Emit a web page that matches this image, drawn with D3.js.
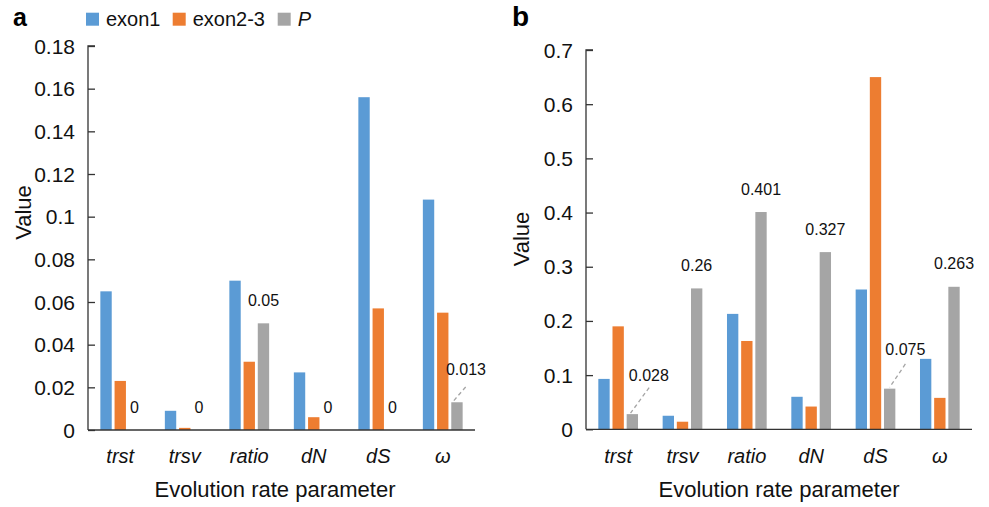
<!DOCTYPE html>
<html>
<head>
<meta charset="utf-8">
<script src="https://cdn.jsdelivr.net/npm/d3@7"></script>
<style>
  html, body { margin: 0; padding: 0; background: #fff; }
  svg { display: block; font-family: "Liberation Sans", Arial, sans-serif; }
</style>
</head>
<body>
<svg id="chart" width="989" height="507"></svg>
<script>
// ---- data ----
const categories = ["trst", "trsv", "ratio", "dN", "dS", "ω"];
const seriesNames = ["exon1", "exon2-3", "P"];
const seriesColors = ["#5B9BD5", "#ED7D31", "#A5A5A5"];

const aExon1  = [0.065, 0.009, 0.070, 0.027, 0.156, 0.108];
const aExon23 = [0.023, 0.001, 0.032, 0.006, 0.057, 0.055];
const aP      = [0, 0, 0.05, 0, 0, 0.013];
const aTicks  = [0, 0.02, 0.04, 0.06, 0.08, 0.1, 0.12, 0.14, 0.16, 0.18];
const aTickLabels = ["0", "0.02", "0.04", "0.06", "0.08", "0.1", "0.12", "0.14", "0.16", "0.18"];

const bExon1  = [0.093, 0.025, 0.213, 0.060, 0.258, 0.130];
const bExon23 = [0.190, 0.014, 0.163, 0.042, 0.650, 0.058];
const bP      = [0.028, 0.26, 0.401, 0.327, 0.075, 0.263];
const bTicks  = [0, 0.1, 0.2, 0.3, 0.4, 0.5, 0.6, 0.7];
const bTickLabels = ["0", "0.1", "0.2", "0.3", "0.4", "0.5", "0.6", "0.7"];

const aPLabels = ["0", "0", "0.05", "0", "0", "0.013"];
const bPLabels = ["0.028", "0.26", "0.401", "0.327", "0.075", "0.263"];

// ---- layout ----
const svg = d3.select("#chart");
const FONT = "'Liberation Sans', Arial, sans-serif";

function drawPanel(cfg) {
  const g = svg.append("g");
  const x0 = d3.scaleBand().domain(categories).range([cfg.left, cfg.right])
    .paddingInner(0.383).paddingOuter(0.1915);
  const x1 = d3.scaleBand().domain(seriesNames).range([0, x0.bandwidth()]).paddingInner(0.2);
  const y = d3.scaleLinear().domain([0, cfg.max]).range([cfg.bottom, cfg.top]);

  const series = [cfg.s1, cfg.s2, cfg.s3];

  // bars
  series.forEach((vals, si) => {
    g.append("g").selectAll("rect").data(vals).join("rect")
      .attr("x", (d, i) => x0(categories[i]) + x1(seriesNames[si]))
      .attr("y", d => y(d))
      .attr("width", x1.bandwidth())
      .attr("height", d => y(0) - y(d))
      .attr("fill", seriesColors[si]);
  });

  // y axis (ticks inward)
  const yAxis = d3.axisRight(y).tickValues(cfg.ticks).tickSize(7).tickFormat("");
  const ya = g.append("g").attr("transform", `translate(${cfg.left},0)`).call(yAxis);
  ya.select(".domain").attr("stroke", "#333").attr("stroke-width", 1.3).attr("d", `M7,${cfg.top}H0V${cfg.bottom}`);
  ya.selectAll(".tick line").attr("stroke", "#333").attr("stroke-width", 1.3);
  g.append("g").selectAll("text").data(cfg.ticks).join("text")
    .attr("x", cfg.left - 13)
    .attr("y", d => y(d))
    .attr("dy", "0.36em")
    .attr("text-anchor", "end")
    .attr("font-size", 21)
    .attr("fill", "#111")
    .text((d, i) => cfg.tickLabels[i]);

  // x axis line
  const xAxis = d3.axisBottom(x0).tickSize(0).tickFormat("");
  const xa = g.append("g").attr("transform", `translate(0,${cfg.bottom})`).call(xAxis);
  xa.select(".domain").attr("stroke", "#333").attr("stroke-width", 1.3)
    .attr("d", `M${cfg.left},0H${cfg.right}`);

  // category labels
  g.append("g").selectAll("text").data(categories).join("text")
    .attr("x", d => x0(d) + x0.bandwidth() / 2)
    .attr("y", cfg.catY)
    .attr("text-anchor", "middle")
    .attr("font-size", 20)
    .attr("font-style", "italic")
    .attr("fill", "#111")
    .text(d => d);

  // axis titles
  g.append("text")
    .attr("x", (cfg.left + cfg.right) / 2 + cfg.xTitleShift)
    .attr("y", 497)
    .attr("text-anchor", "middle")
    .attr("font-size", 22)
    .attr("fill", "#111")
    .text("Evolution rate parameter");
  g.append("text")
    .attr("transform", `translate(${cfg.yTitleX},${cfg.yTitleY}) rotate(-90)`)
    .attr("text-anchor", "middle")
    .attr("font-size", 22)
    .attr("fill", "#111")
    .text("Value");

  // panel letter
  g.append("text")
    .attr("x", cfg.letterX).attr("y", 26)
    .attr("font-size", cfg.letterSize).attr("font-weight", "bold")
    .attr("fill", "#000")
    .text(cfg.letter);

  // P value labels
  cfg.s3.forEach((v, i) => {
    const bx = x0(categories[i]) + x1("P") + x1.bandwidth() / 2;
    const by = y(v);
    const c = cfg.callouts[i];
    if (c) {
      g.append("line")
        .attr("x1", bx + c.lx1).attr("y1", by + c.ly1)
        .attr("x2", bx + c.lx2).attr("y2", by + c.ly2)
        .attr("stroke", "#A5A5A5").attr("stroke-width", 1.3)
        .attr("stroke-dasharray", "4,3");
      g.append("text")
        .attr("x", bx + c.dx).attr("y", by + c.dy)
        .attr("text-anchor", "middle").attr("font-size", 16).attr("fill", "#111")
        .text(cfg.pLabels[i]);
    } else {
      g.append("text")
        .attr("x", bx).attr("y", by - 17.3)
        .attr("text-anchor", "middle").attr("font-size", 16).attr("fill", "#111")
        .text(cfg.pLabels[i]);
    }
  });
}

drawPanel({
  left: 88, right: 475, top: 46, bottom: 430, max: 0.18,
  s1: aExon1, s2: aExon23, s3: aP, ticks: aTicks, tickLabels: aTickLabels,
  pLabels: aPLabels, catY: 463, xTitleShift: -6.5,
  yTitleX: 31, yTitleY: 212.5, letter: "a", letterX: 13, letterSize: 25,
  callouts: { 5: { dx: 9, dy: -27, lx1: 8.7, ly1: -15.3, lx2: -4.3, ly2: -0.3 } }
});

drawPanel({
  left: 586, right: 972, top: 50, bottom: 429.3, max: 0.7,
  s1: bExon1, s2: bExon23, s3: bP, ticks: bTicks, tickLabels: bTickLabels,
  pLabels: bPLabels, catY: 463, xTitleShift: 0,
  yTitleX: 529, yTitleY: 239, letter: "b", letterX: 512, letterSize: 28,
  callouts: {
    0: { dx: 16.5, dy: -33, lx1: 16.8, ly1: -26.6, lx2: -1.8, ly2: -1 },
    4: { dx: 15.7, dy: -33.3, lx1: 15.7, ly1: -24.7, lx2: 0, ly2: -1.3 }
  }
});

// legend
const legend = svg.append("g");
const legendX = [86, 172.7, 277.7];
seriesNames.forEach((s, i) => {
  legend.append("rect")
    .attr("x", legendX[i]).attr("y", 12.7)
    .attr("width", 13).attr("height", 13)
    .attr("fill", seriesColors[i]);
  legend.append("text")
    .attr("x", legendX[i] + 20).attr("y", 26)
    .attr("font-size", 20).attr("fill", "#111")
    .attr("font-style", s === "P" ? "italic" : "normal")
    .text(s);
});
</script>
</body>
</html>
